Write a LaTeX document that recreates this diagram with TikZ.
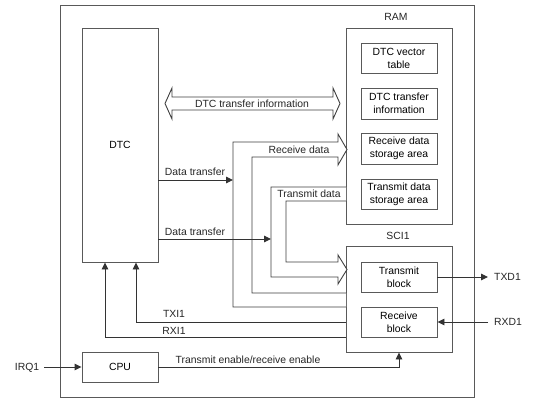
\documentclass[tikz,border=0pt]{standalone}
\usepackage{fontspec}
\setmainfont{Liberation Sans}
\usetikzlibrary{arrows.meta}
\definecolor{lc}{gray}{0.25}
\definecolor{bc}{gray}{0.35}
\begin{document}
\begin{tikzpicture}[x=1pt,y=-1pt,
  fs/.style={font=\fontsize{10.4}{13}\selectfont},
  box/.style={draw=bc, line width=0.9pt, inner sep=0pt, align=center, fs},
  sub/.style={box, minimum width=76pt, minimum height=30pt},
  lbl/.style={inner sep=0pt, fs, text=black!85},
  conn/.style={draw=lc, line width=0.9pt},
  arr/.style={conn, -{Triangle[length=7pt,width=6.5pt]}, black!80},
  hollow/.style={draw=lc, line width=0.9pt, fill=white, line join=miter}]
\useasboundingbox (0,0) rectangle (542,404);
\fill[white] (0,0) rectangle (542,404);
% outer frame
\node[box, minimum width=414pt, minimum height=392pt] (outer) at (267,201) {};
% DTC and CPU
\node[box, minimum width=76pt, minimum height=234pt] (dtc) at (120,145) {DTC};
\node[box, minimum width=76pt, minimum height=30pt] (cpu) at (120,367) {CPU};
% RAM
\node[lbl] (ramlbl) at (396,17) {RAM};
\node[box, minimum width=106pt, minimum height=196pt] (ram) at (399,126) {};
\node[sub] (vec) at (399,58) {DTC vector\\table};
\node[sub, minimum height=31pt] (info) at (399,103.5) {DTC transfer\\information};
\node[sub, minimum height=31pt] (rxs) at (399,148.5) {Receive data\\storage area};
\node[sub] (txs) at (399,194) {Transmit data\\storage area};
% SCI1
\node[lbl] (scilbl) at (398,236) {SCI1};
\node[box, minimum width=106pt, minimum height=106pt] (sci) at (399,299) {};
\node[sub] (txb) at (399,277) {Transmit\\block};
\node[sub] (rxb) at (399,322) {Receive\\block};
% DTC transfer information double arrow
\draw[hollow] (165,103.5) -- (172,88) -- (172,97) -- (333,97) -- (333,88) -- (340,103.5)
  -- (333,119) -- (333,110) -- (172,110) -- (172,119) -- cycle;
\node[lbl] (infolbl) at (252,103.5) {DTC transfer information};
% Receive data hollow arrow (SCI1 -> RAM)
\draw[hollow] (346,307) -- (233,307) -- (233,142) -- (338,142) -- (338,134) -- (347,149.5)
  -- (338,165) -- (338,157) -- (252,157) -- (252,293) -- (346,293);
\node[lbl] (rxdlbl) at (299,149.5) {Receive data};
% Transmit data hollow arrow (RAM -> SCI1)
\draw[hollow] (346,187) -- (271,187) -- (271,277) -- (338,277) -- (338,284) -- (347,269.5)
  -- (338,255) -- (338,262) -- (286,262) -- (286,201) -- (346,201);
\node[lbl] (txdlbl) at (309,194) {Transmit data};
% Data transfer arrows
\coordinate (dt1end) at (233,180);
\coordinate (dt2end) at (271,239);
\draw[arr] ([yshift=-35pt]dtc.east) -- (dt1end);
\node[lbl] (dt1lbl) at (195,172) {Data transfer};
\draw[arr] ([yshift=-94pt]dtc.east) -- (dt2end);
\node[lbl] (dt2lbl) at (195,232) {Data transfer};
% Interrupts
\draw[arr] (rxb.west -| sci.west) -| ([xshift=16pt]dtc.south);
\node[lbl] (txilbl) at (174,314) {TXI1};
\draw[arr] (rxb.south -| sci.west) -| ([xshift=-15pt]dtc.south);
\node[lbl] (rxilbl) at (174,331) {RXI1};
% IRQ1 and CPU
\coordinate (irqstart) at (44,367);
\node[lbl] (irqlbl) at (27,368) {IRQ1};
\draw[arr] (irqstart) -- (cpu.west);
\draw[arr] (cpu.east) -| (sci.south);
\node[lbl] (enlbl) at (248,360) {Transmit enable/receive enable};
% TXD1 / RXD1
\coordinate (txdend) at (488,277);
\coordinate (rxdstart) at (488,322);
\draw[arr] (txb.east) -- (txdend);
\node[lbl, anchor=west] (txd1lbl) at (494,277) {TXD1};
\draw[arr] (rxdstart) -- (rxb.east);
\node[lbl, anchor=west] (rxd1lbl) at (494,322) {RXD1};
\end{tikzpicture}
\end{document}
